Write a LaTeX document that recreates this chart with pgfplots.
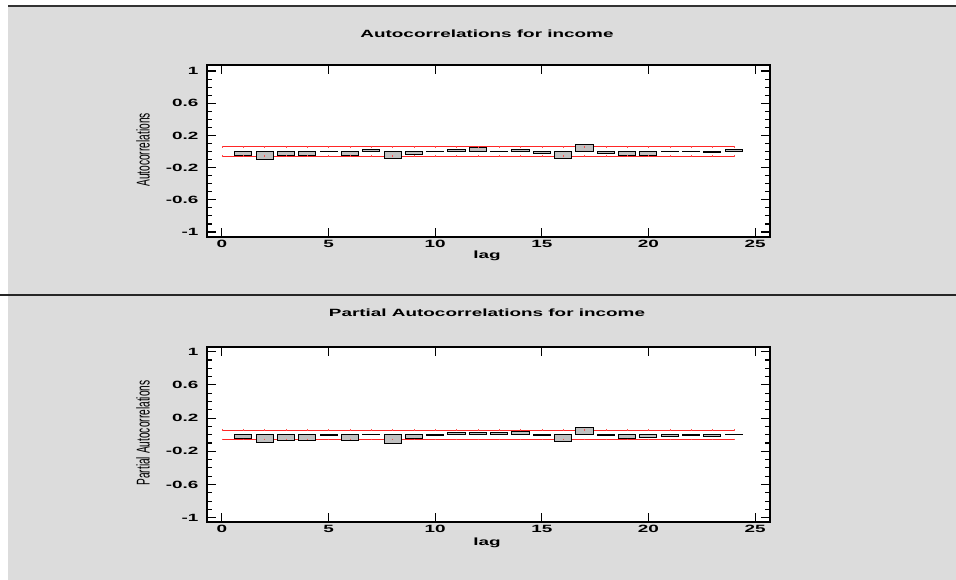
\documentclass[border=0pt]{standalone}
\usepackage{pgfplots}
\pgfplotsset{compat=1.18}
\usepackage{fontspec}
\setmainfont{Liberation Sans}
\newfontfamily\hfont[FakeStretch=1.8]{Liberation Sans}
\newfontfamily\vfont[FakeStretch=0.55]{Liberation Sans}
\definecolor{panel}{RGB}{220,220,220}
\definecolor{barfill}{RGB}{192,192,192}
\pgfplotsset{
 acfaxis/.style={
  scale only axis, width=563pt, xmin=-0.7, xmax=25.7,
  axis background/.style={fill=white},
  axis line style={line width=1.5pt},
  xtick={0,5,...,25},
  ytick={-1,-0.6,-0.2,0.2,0.6,1},
  yticklabels={-1,-0.6,-0.2,0.2,0.6,1},
  minor ytick={-0.9,-0.8,-0.7,-0.5,-0.4,-0.3,-0.1,0,0.1,0.3,0.4,0.5,0.7,0.8,0.9},
  tick align=inside, tick pos=both,
  major tick length=9pt, minor tick length=5pt,
  every tick/.style={black, line width=1.1pt},
  tick label style={font=\hfont\bfseries\fontsize{10.5}{12}\selectfont},
  /pgf/number format/assume math mode=true,
  yticklabel style={xshift=-5pt},
 },
 limline/.style={red!85!white, line width=0.9pt, mark=|, mark size=0.9pt, mark options={line width=0.4pt, red!70!white}},
 acfbar/.style={ybar, bar width=0.8, fill=barfill, draw=black, line width=1pt, mark=none},
}
\begin{document}
\begin{tikzpicture}[x=1pt,y=1pt]
\useasboundingbox (0,0) rectangle (956,580);
\clip (0,0) rectangle (956,580);
\fill[white] (0,0) rectangle (956,580);
\fill[panel] (8,0) rectangle (956,574);
\draw[line width=1.5pt, black!80] (8,574) -- (956,574);
\draw[line width=1.8pt, black!85] (0,285) -- (956,285);

% ---------- Autocorrelations ----------
\begin{axis}[acfaxis, at={(207pt,343pt)}, anchor=south west, height=172pt,
  ymin=-1.062, ymax=1.075]
\addplot[limline] coordinates {
(0,0.057)(1,0.057)(2,0.057)(3,0.057)(4,0.057)(5,0.057)(6,0.057)(7,0.057)(8,0.057)(9,0.057)(10,0.057)(11,0.057)(12,0.057)
(13,0.057)(14,0.057)(15,0.057)(16,0.057)(17,0.057)(18,0.057)(19,0.057)(20,0.057)(21,0.057)(22,0.057)(23,0.057)(24,0.057)};
\addplot[limline] coordinates {
(0,-0.057)(1,-0.057)(2,-0.057)(3,-0.057)(4,-0.057)(5,-0.057)(6,-0.057)(7,-0.057)(8,-0.057)(9,-0.057)(10,-0.057)(11,-0.057)(12,-0.057)
(13,-0.057)(14,-0.057)(15,-0.057)(16,-0.057)(17,-0.057)(18,-0.057)(19,-0.057)(20,-0.057)(21,-0.057)(22,-0.057)(23,-0.057)(24,-0.057)};
\addplot[acfbar] coordinates {
(1,-0.054)(2,-0.095)(3,-0.054)(4,-0.045)(5,-0.004)(6,-0.054)(7,0.030)(8,-0.083)
(9,-0.033)(10,0.003)(11,0.030)(12,0.045)(13,0.002)(14,0.030)(15,-0.030)(16,-0.083)
(17,0.090)(18,-0.025)(19,-0.054)(20,-0.045)(21,-0.004)(22,0.003)(23,-0.008)(24,0.030)};
\end{axis}

% ---------- Partial Autocorrelations ----------
\begin{axis}[acfaxis, at={(207pt,58pt)}, anchor=south west, height=175pt,
  ymin=-1.052, ymax=1.057]
\addplot[limline] coordinates {
(0,0.057)(1,0.057)(2,0.057)(3,0.057)(4,0.057)(5,0.057)(6,0.057)(7,0.057)(8,0.057)(9,0.057)(10,0.057)(11,0.057)(12,0.057)
(13,0.057)(14,0.057)(15,0.057)(16,0.057)(17,0.057)(18,0.057)(19,0.057)(20,0.057)(21,0.057)(22,0.057)(23,0.057)(24,0.057)};
\addplot[limline] coordinates {
(0,-0.057)(1,-0.057)(2,-0.057)(3,-0.057)(4,-0.057)(5,-0.057)(6,-0.057)(7,-0.057)(8,-0.057)(9,-0.057)(10,-0.057)(11,-0.057)(12,-0.057)
(13,-0.057)(14,-0.057)(15,-0.057)(16,-0.057)(17,-0.057)(18,-0.057)(19,-0.057)(20,-0.057)(21,-0.057)(22,-0.057)(23,-0.057)(24,-0.057)};
\addplot[acfbar] coordinates {
(1,-0.048)(2,-0.088)(3,-0.072)(4,-0.064)(5,-0.004)(6,-0.068)(7,0.008)(8,-0.100)
(9,-0.044)(10,-0.008)(11,0.024)(12,0.032)(13,0.024)(14,0.040)(15,-0.004)(16,-0.080)
(17,0.084)(18,-0.004)(19,-0.048)(20,-0.036)(21,-0.024)(22,-0.004)(23,-0.016)(24,0.001)};
\end{axis}

% ---------- titles and labels ----------
\node[font=\hfont\bfseries\fontsize{10.5}{12}\selectfont] at (487,546) {Autocorrelations for income};
\node[font=\hfont\bfseries\fontsize{10.5}{12}\selectfont] at (487,267) {Partial Autocorrelations for income};
\node[font=\hfont\bfseries\fontsize{10.5}{12}\selectfont] at (487,324) {lag};
\node[font=\hfont\bfseries\fontsize{10.5}{12}\selectfont] at (487,37) {lag};
\node[rotate=90, font=\vfont\fontsize{18.5}{20}\selectfont] at (143,430) {Autocorrelations};
\node[rotate=90, font=\vfont\fontsize{18.5}{20}\selectfont] at (143,147) {Partial Autocorrelations};
\end{tikzpicture}
\end{document}
